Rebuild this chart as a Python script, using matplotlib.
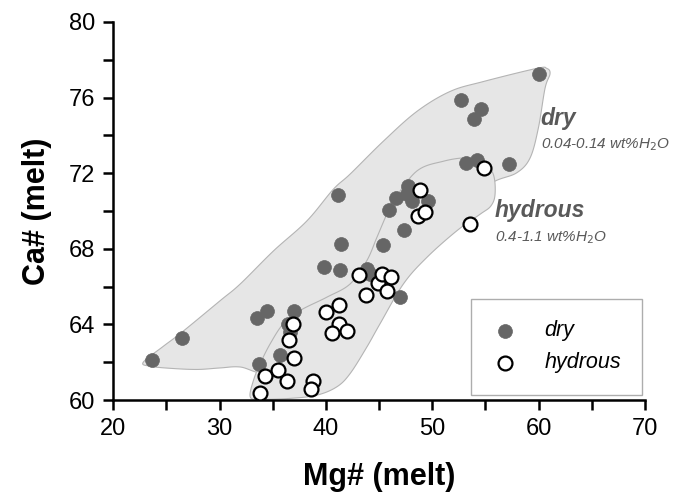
import numpy as np
import matplotlib
matplotlib.use('Agg')
import matplotlib.pyplot as plt

plt.rcParams['font.family'] = ['Liberation Sans', 'DejaVu Sans']

# measured points (Mg#, Ca#)
dry_mg = [23.6, 26.5, 33.5, 34.5, 33.7, 35.7, 37.0, 36.4, 36.6, 39.8, 41.3, 41.1,
          41.45, 43.9, 44.1, 45.4, 45.9, 46.55, 47.75, 47.6, 48.1, 49.6, 47.3, 47.0,
          52.7, 54.6, 53.9, 53.2, 54.2, 57.2, 60.05]
dry_ca = [62.1, 63.3, 64.35, 64.7, 61.9, 62.4, 64.7, 64.0, 63.6, 67.05, 66.9, 70.85,
          68.25, 66.95, 66.65, 68.2, 70.04, 70.66, 71.3, 70.9, 70.55, 70.53, 68.98, 65.45,
          75.86, 75.38, 74.88, 72.55, 72.67, 72.48, 77.24]

hyd_mg = [33.8, 34.3, 35.5, 36.3, 37.0, 36.5, 36.9, 38.8, 38.6, 40.0, 41.2, 41.2,
          42.0, 40.6, 43.1, 43.8, 44.9, 45.3, 46.1, 45.7, 48.7, 49.3, 48.8, 53.5, 54.85]
hyd_ca = [60.4, 61.26, 61.6, 61.0, 62.2, 63.2, 64.0, 61.0, 60.6, 64.65, 65.05, 64.04,
          63.65, 63.54, 66.6, 65.57, 66.2, 66.67, 66.5, 65.75, 69.74, 69.96, 71.1, 69.3, 72.27]

# field outlines
dry_field_x = [22.82, 24.7, 26.46, 30.06, 31.94, 35.07, 38.2, 40.68, 42.27, 45.38, 48.54,
               51.67, 54.77, 59.82, 60.76, 61.07, 60.6, 59.97, 59.19, 57.94, 55.9, 53.55,
               48.85, 43.2, 37.58, 34.57, 31.94, 30.06, 27.87, 25.36, 23.48]
dry_field_y = [62.0, 62.84, 63.59, 65.26, 66.14, 67.89, 69.47, 71.14, 71.95, 73.68, 75.26,
               76.32, 76.84, 77.54, 77.54, 77.26, 76.49, 74.38, 72.8, 72.02, 71.58, 70.79,
               68.16, 65.26, 62.89, 61.47, 61.75, 61.7, 61.62, 61.68, 61.79]

hyd_field_x = [32.88, 33.19, 33.82, 34.76, 36.0, 37.58, 40.08, 42.27, 43.84, 44.78, 45.72,
               46.34, 48.54, 51.04, 53.24, 54.8, 55.74, 55.9, 55.5, 54.5, 52.3, 49.48,
               47.28, 45.09, 43.84, 42.27, 41.02, 39.14, 36.64, 33.82]
hyd_field_y = [60.17, 61.05, 61.93, 62.98, 64.04, 64.74, 65.44, 66.14, 67.37, 68.59, 69.83,
               70.53, 72.11, 72.63, 72.81, 72.63, 71.93, 70.88, 70.26, 69.83, 68.95, 67.54,
               66.14, 64.04, 62.8, 61.4, 60.7, 60.26, 60.09, 60.04]


def smooth_closed(xs, ys, n=12):
    # closed Catmull-Rom through the outline points
    p = np.column_stack([xs, ys])
    m = len(p)
    out = []
    for i in range(m):
        p0, p1, p2, p3 = p[i - 1], p[i], p[(i + 1) % m], p[(i + 2) % m]
        for t in np.linspace(0, 1, n, endpoint=False):
            t2, t3 = t * t, t * t * t
            out.append(0.5 * ((2 * p1) + (-p0 + p2) * t +
                              (2 * p0 - 5 * p1 + 4 * p2 - p3) * t2 +
                              (-p0 + 3 * p1 - 3 * p2 + p3) * t3))
    out = np.array(out)
    return out[:, 0], out[:, 1]


fig = plt.figure(figsize=(6.74, 4.97), dpi=100)
ax = fig.add_axes([0.168, 0.195, 0.789, 0.761])

fx, fy = smooth_closed(dry_field_x, dry_field_y)
ax.fill(fx, fy, facecolor='#e6e6e6', edgecolor='#b4b4b4', linewidth=0.8, zorder=1)
hx, hy = smooth_closed(hyd_field_x, hyd_field_y)
ax.fill(hx, hy, facecolor='#e6e6e6', edgecolor='#b4b4b4', linewidth=0.8, zorder=2)

ax.scatter(dry_mg, dry_ca, s=100, color='#666666', edgecolors='#666666', linewidths=0.5,
           zorder=3, label='dry')
ax.scatter(hyd_mg, hyd_ca, s=100, color='white', edgecolors='black', linewidths=1.6,
           zorder=4, label='hydrous')

ax.text(60.2, 74.9, 'dry', fontsize=16.5, fontweight='bold', style='italic',
        color='#595959', va='center')
ax.text(60.2, 73.5, '0.04-0.14 wt%H$_2$O', fontsize=11, style='italic',
        color='#595959', va='center')
ax.text(55.9, 70.0, 'hydrous', fontsize=16.5, fontweight='bold', style='italic',
        color='#595959', va='center')
ax.text(55.9, 68.6, '0.4-1.1 wt%H$_2$O', fontsize=11, style='italic',
        color='#595959', va='center')

leg = ax.legend(loc='lower right', bbox_to_anchor=(0.995, 0.014),
                prop={'style': 'italic', 'size': 15.5}, frameon=True, fancybox=False,
                edgecolor='#999999', borderpad=1.0, labelspacing=0.5,
                handlelength=1.16, handletextpad=1.24, borderaxespad=0.0)
leg.get_frame().set_linewidth(1.0)

ax.set_xlim(20, 70)
ax.set_ylim(60, 80)
ax.set_xticks([20, 30, 40, 50, 60, 70])
ax.set_xticks([25, 35, 45, 55, 65], minor=True)
ax.set_yticks([60, 64, 68, 72, 76, 80])
ax.set_yticks([62, 66, 70, 74, 78], minor=True)
ax.tick_params(which='both', direction='out', length=7, width=1.8, labelsize=17, pad=6)

for s in ['top', 'right']:
    ax.spines[s].set_visible(False)
for s in ['left', 'bottom']:
    ax.spines[s].set_linewidth(1.8)

ax.set_xlabel('Mg# (melt)', fontsize=22, fontweight='bold', labelpad=16)
ax.set_ylabel('Ca# (melt)', fontsize=22, fontweight='bold', labelpad=12)

plt.savefig('out.png', dpi=100)
